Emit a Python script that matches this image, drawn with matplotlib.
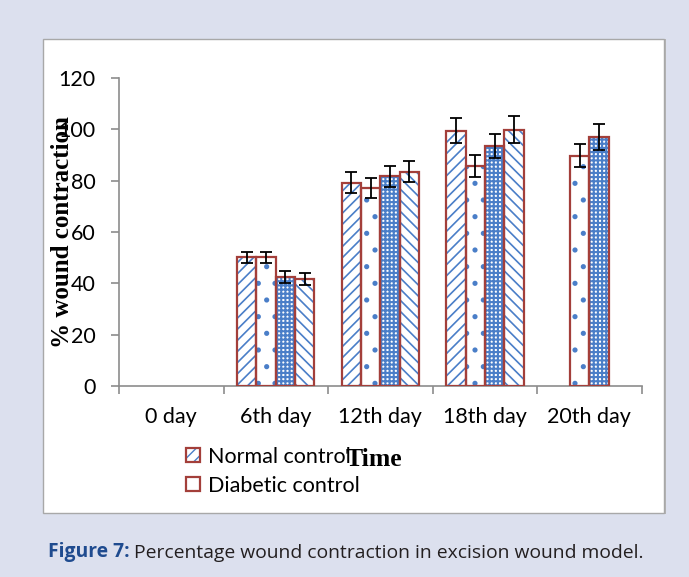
import numpy as np
import matplotlib.pyplot as plt
from matplotlib.patches import Rectangle, Patch

days = ['0 day', '6th day', '12th day', '18th day', '20th day']
series_names = ['Normal control', 'Diabetic control', 'Series 3', 'Series 4']

# % wound contraction (nan = no bar)
normal = [np.nan, 50.2, 79.2, 99.5, np.nan]
diabetic = [np.nan, 50.2, 77.2, 85.8, 89.7]
series3 = [np.nan, 42.5, 81.7, 93.6, 97.1]
series4 = [np.nan, 41.7, 83.5, 99.9, np.nan]

normal_err = [0, 2.2, 4.0, 5.0, 0]
diabetic_err = [0, 2.1, 3.9, 4.3, 4.5]
series3_err = [0, 2.3, 4.2, 4.7, 5.0]
series4_err = [0, 2.4, 4.2, 5.2, 0]

values = [normal, diabetic, series3, series4]
errors = [normal_err, diabetic_err, series3_err, series4_err]
hatches = ['///', '.', '++++', '\\\\\\']
hatch_lw = [1.2, 1.3, 1.5, 1.2]

bg = '#dce0ee'
edge_red = '#a33f3a'
hatch_blue = '#4a7ec8'
axis_gray = '#8c8c8c'

fig = plt.figure(figsize=(6.89, 5.77), dpi=100, facecolor=bg)

# white panel holding the chart (behind the axes)
fig.patches.append(Rectangle((0.064, 0.109), 0.902, 0.824, transform=fig.transFigure,
                             facecolor='#b4b4b4', edgecolor='none', zorder=-2))
fig.patches.append(Rectangle((0.062, 0.111), 0.901, 0.822, transform=fig.transFigure,
                             facecolor='white', edgecolor='#a8a8a8', linewidth=1.0, zorder=-1))

ax = fig.add_axes([0.1727, 0.331, 0.7586, 0.5338])
ax.set_facecolor('none')

x = np.arange(len(days))
w = 0.185
for i, (vals, errs, h) in enumerate(zip(values, errors, hatches)):
    pos = x + (i - 1.5) * w
    plt.rcParams['hatch.linewidth'] = hatch_lw[i]
    ax.bar(pos, vals, w, facecolor='white', edgecolor=hatch_blue,
           hatch=h, linewidth=0, zorder=2)
    ax.bar(pos, vals, w, fill=False, edgecolor=edge_red, linewidth=1.6, zorder=3)
    ax.errorbar(pos, vals, yerr=errs, fmt='none', ecolor='black',
                elinewidth=1.3, capsize=4, capthick=1.3, zorder=4)

ax.set_xlim(-0.5, len(days) - 0.5)
ax.set_ylim(0, 120)
ax.set_yticks(np.arange(0, 121, 20))
ax.set_xticks(np.arange(-0.5, len(days), 1.0))
ax.set_xticklabels([])
ax.set_xticks(x, minor=True)
ax.set_xticklabels(days, minor=True)

for s in ['top', 'right']:
    ax.spines[s].set_visible(False)
for s in ['left', 'bottom']:
    ax.spines[s].set_color(axis_gray)
    ax.spines[s].set_linewidth(1.2)

ax.tick_params(axis='y', length=6, width=1.2, color=axis_gray, pad=11,
               labelsize=15.5, labelcolor='black')
ax.tick_params(axis='x', which='major', length=6, width=1.2, color=axis_gray)
ax.tick_params(axis='x', which='minor', length=0, pad=15, labelsize=15.5)
for lab in ax.get_yticklabels() + ax.get_xticklabels(minor=True):
    lab.set_fontfamily('Lato')

fig.text(0.09, 0.597, '% wound contraction', rotation=90, ha='center', va='center',
         fontsize=18, fontweight='bold', family='Liberation Serif')

# legend only lists the first two series, as in the original
plt.rcParams['hatch.linewidth'] = 1.0
h_normal = (Patch(facecolor='white', edgecolor=hatch_blue, hatch='///', linewidth=0),
            Patch(fill=False, edgecolor=edge_red, linewidth=1.6))
h_diab = Patch(fill=False, edgecolor=edge_red, linewidth=1.6)
fig.legend([h_normal, h_diab], series_names[:2], loc='upper left',
           bbox_to_anchor=(0.27, 0.226), frameon=False, borderpad=0,
           borderaxespad=0, handlelength=0.65, handleheight=0.65,
           handletextpad=0.35, labelspacing=0.42,
           prop={'family': 'Lato', 'size': 15.5})

fig.text(0.543, 0.203, 'Time', ha='center', va='center', fontsize=18.5,
         fontweight='bold', family='Liberation Serif')

t1 = fig.text(0.07, 0.034, 'Figure 7:', ha='left', va='baseline', fontsize=13.9,
              fontweight='bold', color='#1f4b8f', family='Open Sans')
ax.annotate('Percentage wound contraction in excision wound model.',
            xy=(1, 0), xycoords=t1, xytext=(3, 0), textcoords='offset points',
            ha='left', va='bottom', fontsize=13.9, color='#231f20',
            family='Open Sans', annotation_clip=False)

fig.savefig('out.png', dpi=100, facecolor=bg)
